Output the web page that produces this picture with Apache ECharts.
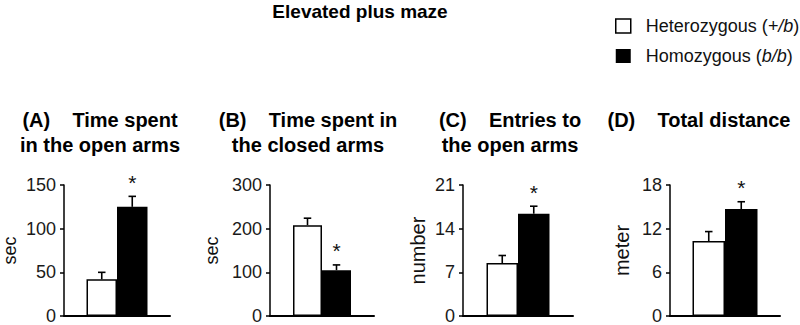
<!DOCTYPE html>
<html>
<head>
<meta charset="utf-8">
<script src="https://cdn.jsdelivr.net/npm/echarts@6/dist/echarts.min.js"></script>
<style>
  html, body { margin: 0; padding: 0; background: #fff; }
  #chart { width: 800px; height: 325px; }
</style>
</head>
<body>
<div id="chart"></div>
<script>
// ---- data ----
const mainTitle = 'Elevated plus maze';
const seriesNames = ['Heterozygous (+/b)', 'Homozygous (b/b)'];
const panelTitles = [
  '(A)    Time spent\nin the open arms',
  '(B)    Time spent in\nthe closed arms',
  '(C)    Entries to\nthe open arms',
  '(D)    Total distance'
];
const yNames = ['sec', 'sec', 'number', 'meter'];
const yMax = [150, 300, 21, 18];
const yInterval = [50, 100, 7, 6];
const hetMean = [42, 208, 8.5, 10.3];
const hetErr = [8, 16, 1.2, 1.3];
const homMean = [125, 105, 16.4, 14.7];
const homErr = [12, 12, 1.2, 1.0];
const significant = [true, true, true, true];

// ---- layout (not data) ----
const layout = [
  { left: 64,  width: 106, titleX: 100, nameGap: 45, nameSize: 18, barWidth: 30.5 },
  { left: 270, width: 104, titleX: 308, nameGap: 49, nameSize: 18, barWidth: 29 },
  { left: 463, width: 110, titleX: 510, nameGap: 35, nameSize: 20, barWidth: 31.5 },
  { left: 670, width: 110, titleX: 699, nameGap: 38, nameSize: 20, barWidth: 32.5 }
];
const FONT = '"Liberation Sans", Arial, sans-serif';
const gridTop = 185, gridHeight = 133;

const chart = echarts.init(document.getElementById('chart'), null, { renderer: 'svg' });

const grids = [], xAxes = [], yAxes = [], series = [], graphics = [];

graphics.push({
  type: 'text', x: 360, y: 11,
  style: { text: mainTitle, font: 'bold 19px ' + FONT, fill: '#000', textAlign: 'center', textVerticalAlign: 'middle' }
});

layout.forEach((L, i) => {
  grids.push({ left: L.left, top: gridTop, width: L.width, height: gridHeight });
  xAxes.push({
    type: 'category', gridIndex: i, data: [String.fromCharCode(65 + i)],
    axisLine: { lineStyle: { color: '#000', width: 2 } },
    axisTick: { show: false }, axisLabel: { show: false }
  });
  yAxes.push({
    type: 'value', gridIndex: i, min: 0, max: yMax[i], interval: yInterval[i],
    name: yNames[i], nameLocation: 'middle', nameGap: L.nameGap,
    nameTextStyle: { fontSize: L.nameSize, fontFamily: FONT, color: '#111' },
    axisLine: { show: true, lineStyle: { color: '#000', width: 1.5 } },
    axisTick: { show: true, inside: false, length: 4, lineStyle: { color: '#000', width: 1.5 } },
    axisLabel: { fontSize: 18, fontFamily: FONT, color: '#1a1a1a', margin: 8 },
    splitLine: { show: false }
  });
  graphics.push({
    type: 'text', x: L.titleX, y: 107.5,
    style: { text: panelTitles[i], font: 'bold 20px ' + FONT, fill: '#000', textAlign: 'center', textVerticalAlign: 'top', lineHeight: 25 }
  });

  series.push({
    name: seriesNames[0], type: 'bar', xAxisIndex: i, yAxisIndex: i,
    data: [hetMean[i]], barWidth: L.barWidth, barGap: '0%',
    itemStyle: { color: '#fff', borderColor: '#000', borderWidth: 1.5 },
    silent: true, animation: false
  });
  series.push({
    name: seriesNames[1], type: 'bar', xAxisIndex: i, yAxisIndex: i,
    data: [homMean[i]], barWidth: L.barWidth, barGap: '0%',
    itemStyle: { color: '#000' },
    silent: true, animation: false
  });
  // error bars + significance marks
  const bw = L.barWidth;
  series.push({
    type: 'custom', xAxisIndex: i, yAxisIndex: i, silent: true, animation: false, z: 5,
    data: [[0, hetMean[i], hetErr[i], 0, 0], [0, homMean[i], homErr[i], 1, significant[i] ? 1 : 0]],
    encode: { x: 0, y: 1 },
    renderItem: function (params, api) {
      const mean = api.value(1), err = api.value(2), which = api.value(3), sig = api.value(4);
      const base = api.coord([api.value(0), mean]);
      const top = api.coord([api.value(0), mean + err]);
      const x = base[0] + (which === 0 ? -bw / 2 : bw / 2);
      const cap = 7.5;
      const color = '#000';
      const children = [
        { type: 'line', shape: { x1: x, y1: base[1], x2: x, y2: top[1] }, style: { stroke: color, lineWidth: 1.6 } },
        { type: 'line', shape: { x1: x - cap / 2, y1: top[1], x2: x + cap / 2, y2: top[1] }, style: { stroke: color, lineWidth: 1.6 } }
      ];
      if (sig) {
        children.push({
          type: 'text', x: x, y: top[1] - 14,
          style: { text: '*', font: '21px ' + FONT, fill: '#111', textAlign: 'center', textVerticalAlign: 'middle' }
        });
      }
      return { type: 'group', children: children };
    }
  });
});

chart.setOption({
  animation: false,
  grid: grids, xAxis: xAxes, yAxis: yAxes, series: series,
  graphic: graphics,
  legend: {
    orient: 'vertical', left: 610, top: 12, itemWidth: 15, itemHeight: 14, itemGap: 12,
    selectedMode: false,
    icon: 'rect',
    textStyle: {
      fontSize: 18, fontFamily: FONT, color: '#111', padding: [0, 0, 0, 10],
      rich: { i: { fontStyle: 'italic', fontSize: 18, fontFamily: FONT, color: '#111' } }
    },
    formatter: function (name) {
      return name.replace(/\((.*)\)/, '({i|$1})');
    },
    data: [
      { name: seriesNames[0], itemStyle: { color: '#fff', borderColor: '#000', borderWidth: 1.5 } },
      { name: seriesNames[1], itemStyle: { color: '#000' } }
    ]
  }
});
</script>
</body>
</html>
